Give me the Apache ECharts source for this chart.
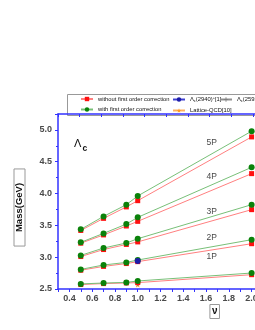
<!DOCTYPE html>
<html><head><meta charset="utf-8">
<script src="https://cdn.jsdelivr.net/npm/echarts@6/dist/echarts.min.js"></script>
<style>html,body{margin:0;padding:0;overflow:hidden;background:#fff;width:255px;height:330px}#c{width:270px;height:330px}</style>
</head><body><div id="c"></div>
<script>
// ---- data ----
const nu = [0.5, 0.7, 0.9, 1.0, 2.0];
const levels = ['1P', '2P', '3P', '4P', '5P'];
const without1P = [2.570, 2.585, 2.595, 2.600, 2.725];
const without2P = [2.795, 2.855, 2.900, 2.930, 3.212];
const without3P = [3.010, 3.120, 3.200, 3.240, 3.747];
const without4P = [3.220, 3.350, 3.490, 3.563, 4.313];
const without5P = [3.420, 3.610, 3.790, 3.888, 4.890];
const with1P = [2.580, 2.594, 2.604, 2.626, 2.751];
const with2P = [2.808, 2.877, 2.918, 2.955, 3.275];
const with3P = [3.028, 3.144, 3.223, 3.290, 3.825];
const with4P = [3.233, 3.374, 3.520, 3.626, 4.412];
const with5P = [3.437, 3.641, 3.825, 3.962, 4.980];
const exp2940 = [[1.0, 2.94]];
const exp2595 = [[1.0, 2.595]];
const lattice = [[1.0, 2.57]];
const levelLabelPos = [[1.65, 3.01], [1.65, 3.31], [1.65, 3.72], [1.65, 4.26], [1.65, 4.80]];
const yTicks = [2.5, 3.0, 3.5, 4.0, 4.5, 5.0];

const withoutAll = [without1P, without2P, without3P, without4P, without5P];
const withAll = [with1P, with2P, with3P, with4P, with5P];

const NAME_WO = 'without first order correction';
const NAME_W = 'with first order correction';
const NAME_2940 = 'Lc2940';
const NAME_2595 = 'Lc2595';
const NAME_LQ = 'Lattice-QCD[10]';

const FONT = 'Liberation Sans';
const AXIS_BLUE = '#3232ff';

const series = [];
series.push({
  name: NAME_LQ, type: 'line', data: lattice,
  symbol: 'path://M50,0L61,35L98,35L68,57L79,91L50,70L21,91L32,57L2,35L39,35Z',
  symbolSize: 6, itemStyle: {color: '#ff9a1a'}, lineStyle: {color: '#ffb060', width: 1}, z: 1
});
withoutAll.forEach(arr => series.push({
  name: NAME_WO, type: 'line', data: nu.map((x, i) => [x, arr[i]]),
  symbol: 'rect', symbolSize: 5, itemStyle: {color: '#ff1010'},
  lineStyle: {color: '#ff8080', width: 1}, z: 2
}));
withAll.forEach(arr => series.push({
  name: NAME_W, type: 'line', data: nu.map((x, i) => [x, arr[i]]),
  symbol: 'circle', symbolSize: 6, itemStyle: {color: '#0a820a'},
  lineStyle: {color: '#78c078', width: 1}, z: 3
}));
series.push({
  name: NAME_2595, type: 'line', data: exp2595,
  symbol: 'path://M4,0h2v4h4v2h-4v4h-2v-4h-4v-2h4z', symbolSize: 6,
  itemStyle: {color: '#808080'}, lineStyle: {color: '#909090', width: 1}, z: 1
});
series.push({
  name: NAME_2940, type: 'line', data: exp2940,
  symbol: 'circle', symbolSize: 6, itemStyle: {color: '#1c1ca8'},
  lineStyle: {color: '#4040d0', width: 1}, z: 4
});
series.push({
  name: 'labels', type: 'scatter', data: levelLabelPos, symbolSize: 0, silent: true,
  label: {show: true, position: 'inside', formatter: p => levels[p.dataIndex],
    color: '#111', fontFamily: FONT, fontSize: 8.5}, z: 5
});

const legendText = {
  fontFamily: FONT, fontSize: 5.8, color: '#111',
  rich: {s: {fontSize: 4, fontFamily: FONT, padding: [3, 0, 0, 0]}, p: {fontSize: 4, fontFamily: FONT, padding: [0, 0, 3, 0]}}
};
const fmt = n => n === NAME_2940 ? 'Λ{s|c}(2940){p|+}[1]' : (n === NAME_2595 ? 'Λ{s|c}(2595){p|+}[1]' : n);
const legendBase = {orient: 'vertical', top: 96, itemWidth: 12, itemHeight: 5.5, itemGap: 4.5,
  textStyle: legendText, formatter: fmt, padding: 0, selectedMode: false};

const chart = echarts.init(document.getElementById('c'), null, {renderer: 'canvas'});
chart.setOption({
  animation: false,
  backgroundColor: '#fff',
  grid: {left: 58, top: 114, bottom: 41, right: 7},
  legend: [
    Object.assign({}, legendBase, {left: 80, data: [NAME_WO, NAME_W]}),
    Object.assign({}, legendBase, {left: 172, data: [NAME_2940, NAME_LQ]}),
    Object.assign({}, legendBase, {left: 219, data: [NAME_2595]})
  ],
  xAxis: [{
    type: 'value', min: 0.3, max: 2.1, interval: 0.1, position: 'bottom',
    axisLine: {lineStyle: {color: AXIS_BLUE, width: 1.5}},
    axisTick: {show: true, inside: false, length: 3, lineStyle: {color: AXIS_BLUE, width: 1}},
    splitLine: {show: false},
    axisLabel: {margin: 5, fontFamily: FONT, fontSize: 9, fontWeight: 'bold', color: '#4a4a4a',
      formatter: v => { const t = Math.round(v * 10); return (t % 2 === 0 && t >= 4 && t <= 20) ? (t / 10).toFixed(1) : ''; }}
  }, {
    type: 'value', min: 0, max: 9.46, interval: 1, position: 'top',
    axisLine: {lineStyle: {color: AXIS_BLUE, width: 1.5}},
    axisTick: {show: true, inside: true, length: 3, lineStyle: {color: AXIS_BLUE, width: 1}},
    axisLabel: {show: false}, splitLine: {show: false}
  }],
  yAxis: {
    type: 'value', min: 2.5, max: 5.25, interval: 0.5,
    axisLine: {show: true, lineStyle: {color: AXIS_BLUE, width: 1.5}},
    axisTick: {show: true, inside: false, length: 3, lineStyle: {color: AXIS_BLUE, width: 1}},
    minorTick: {show: true, splitNumber: 2, length: 2, lineStyle: {color: AXIS_BLUE, width: 1}},
    splitLine: {show: false}, minorSplitLine: {show: false},
    axisLabel: {margin: 6, fontFamily: FONT, fontSize: 9, fontWeight: 'bold', color: '#4a4a4a',
      formatter: v => yTicks.some(t => Math.abs(t - v) < 1e-6) ? v.toFixed(1) : ''}
  },
  graphic: [
    {type: 'rect', left: 65, top: 92, shape: {width: 240, height: 21},
      style: {fill: 'none', stroke: '#999', lineWidth: 1}, z: 0},
    {type: 'text', x: 19.5, y: 207.5, rotation: Math.PI / 2,
      style: {text: 'Mass(GeV)', fontFamily: FONT, fontSize: 9.5, fontWeight: 'bold', fill: '#111',
        align: 'center', verticalAlign: 'middle', lineHeight: 11,
        borderColor: '#999', borderWidth: 1, padding: [0, 14]}},
    {type: 'text', x: 214.7, y: 311.5,
      style: {text: 'ν', fontFamily: FONT, fontSize: 10, fontWeight: 'bold', fill: '#111',
        align: 'center', verticalAlign: 'middle', lineHeight: 12,
        borderColor: '#999', borderWidth: 1, padding: [1, 2]}},
    {type: 'text', left: 74, top: 138,
      style: {text: 'Λ', fontFamily: FONT, fontSize: 11, fill: '#111'}},
    {type: 'text', left: 82.5, top: 144.5,
      style: {text: 'c', fontFamily: FONT, fontSize: 8.5, fontWeight: 'bold', fill: '#111'}}
  ],
  series: series
});
</script></body></html>
